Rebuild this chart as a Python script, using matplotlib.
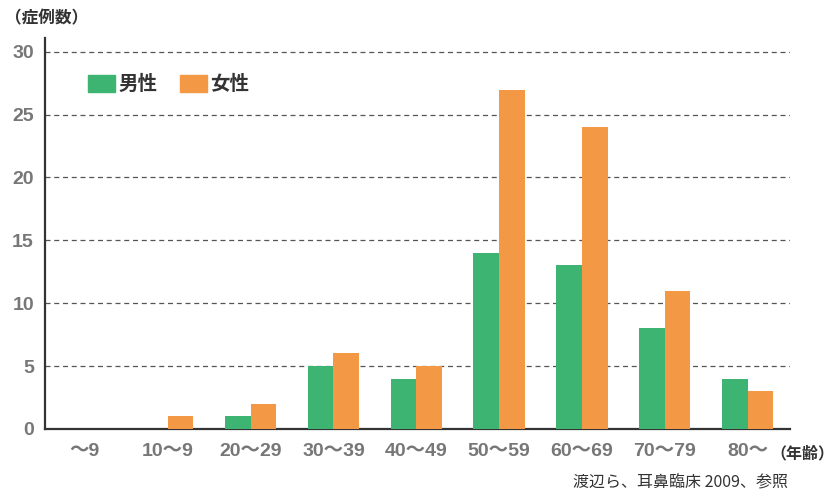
import matplotlib
matplotlib.use("Agg")
import matplotlib.pyplot as plt
import numpy as np
from matplotlib.patches import Rectangle

plt.rcParams['font.family'] = ['Noto Sans CJK JP', 'DejaVu Sans']

age_groups = ['〜9', '10〜9', '20〜29', '30〜39', '40〜49', '50〜59', '60〜69', '70〜79', '80〜']
male = [0, 0, 1, 5, 4, 14, 13, 8, 4]
female = [0, 1, 2, 6, 5, 27, 24, 11, 3]
yticks = [0, 5, 10, 15, 20, 25, 30]

green = '#3db471'
orange = '#f39844'
gray = '#777777'
num_font = ['Liberation Sans', 'Noto Sans CJK JP']

fig = plt.figure(figsize=(8.35, 4.93), dpi=100)
ax = fig.add_axes([0.054, 0.13, 0.892, 0.793])

x = np.arange(len(age_groups))
w = 0.31
ax.bar(x - w / 2, male, w, color=green, zorder=3)
ax.bar(x + w / 2, female, w, color=orange, zorder=3)

ax.set_xlim(-0.48, 8.51)
ax.set_ylim(0, 31.1)
ax.set_yticks(yticks)
ax.set_yticklabels([str(v) for v in yticks], color=gray, fontsize=14,
                   fontweight='bold', family=num_font)
ax.set_xticks(x)
ax.set_xticklabels(age_groups, color=gray, fontsize=14, fontweight='bold',
                   family=num_font)
ax.tick_params(length=0, pad=8)
ax.tick_params(axis='x', pad=10)

for v in yticks[1:]:
    ax.axhline(v, color='#555555', lw=0.9, ls=(0, (4, 3)), zorder=1)

for s in ['top', 'right']:
    ax.spines[s].set_visible(False)
ax.spines['left'].set_color('#333333')
ax.spines['bottom'].set_color('#333333')
ax.spines['left'].set_linewidth(1.6)
ax.spines['bottom'].set_linewidth(1.6)

# legend
fig.patches.append(Rectangle((88 / 835, 1 - 92 / 493), 27 / 835, 17 / 493,
                             transform=fig.transFigure, color=green))
fig.text(118 / 835, 1 - 84 / 493, '男性', fontsize=14, fontweight='bold',
         color='#333333', va='center')
fig.patches.append(Rectangle((180 / 835, 1 - 92 / 493), 27 / 835, 17 / 493,
                             transform=fig.transFigure, color=orange))
fig.text(210 / 835, 1 - 84 / 493, '女性', fontsize=14, fontweight='bold',
         color='#333333', va='center')

fig.text(5 / 835, 1 - 18 / 493, '（症例数）', fontsize=12, fontweight='bold',
         color='#333333', va='center')
fig.text(834 / 835, 1 - 453 / 493, '（年齢）', fontsize=11.5, fontweight='bold',
         color='#333333', va='center', ha='right')
fig.text(788 / 835, 1 - 483 / 493, '渡辺ら、耳鼻臨床 2009、参照', fontsize=11.5,
         color='#333333', va='center', ha='right')

fig.savefig('out.png', dpi=100)
